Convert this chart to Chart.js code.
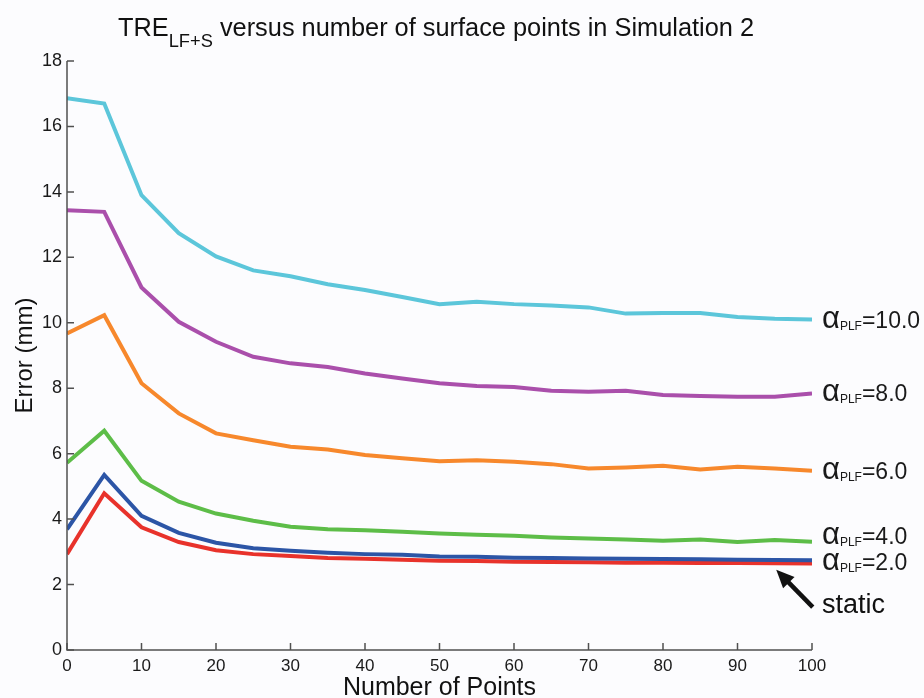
<!DOCTYPE html>
<html>
<head>
<meta charset="utf-8">
<script src="https://cdn.jsdelivr.net/npm/chart.js@4"></script>
<style>
  html, body { margin: 0; padding: 0; background: #fcfcfe; }
  #wrap { width: 924px; height: 698px; }
</style>
</head>
<body>
<div id="wrap"><canvas id="treChart" width="924" height="698"></canvas></div>
<script>
// number of surface points
var points = [0, 5, 10, 15, 20, 25, 30, 35, 40, 45, 50, 55, 60, 65, 70, 75, 80, 85, 90, 95, 100];

// TRE error (mm) per alpha_PLF
var alpha10 = [16.86, 16.70, 13.90, 12.74, 12.03, 11.60, 11.42, 11.18, 11.00, 10.79, 10.57, 10.64, 10.57, 10.53, 10.47, 10.28, 10.30, 10.30, 10.18, 10.12, 10.10];
var alpha8  = [13.44, 13.39, 11.08, 10.03, 9.42, 8.96, 8.76, 8.65, 8.45, 8.30, 8.15, 8.07, 8.04, 7.92, 7.89, 7.92, 7.79, 7.76, 7.74, 7.74, 7.84];
var alpha6  = [9.67, 10.23, 8.15, 7.23, 6.62, 6.41, 6.21, 6.13, 5.96, 5.86, 5.77, 5.80, 5.75, 5.68, 5.55, 5.58, 5.63, 5.52, 5.60, 5.55, 5.48];
var alpha4  = [5.72, 6.70, 5.17, 4.53, 4.17, 3.95, 3.77, 3.69, 3.66, 3.61, 3.56, 3.52, 3.49, 3.44, 3.41, 3.38, 3.34, 3.38, 3.30, 3.36, 3.31];
var alpha2  = [3.69, 5.35, 4.10, 3.58, 3.28, 3.11, 3.03, 2.97, 2.93, 2.91, 2.86, 2.85, 2.82, 2.81, 2.80, 2.79, 2.78, 2.77, 2.76, 2.75, 2.74];
var staticErr = [2.93, 4.79, 3.75, 3.30, 3.05, 2.93, 2.87, 2.81, 2.79, 2.76, 2.73, 2.72, 2.70, 2.69, 2.68, 2.67, 2.67, 2.66, 2.66, 2.65, 2.64];

var alphaLabels = ["=10.0", "=8.0", "=6.0", "=4.0", "=2.0"];

var FONT = "'Liberation Sans', Arial, sans-serif";
var AXIS = "#505050";

function toXY(vals) {
    return vals.map(function (v, i) { return { x: points[i], y: v }; });
}

function line(label, vals, color) {
    return {
        label: label,
        data: toXY(vals),
        borderColor: color,
        backgroundColor: color,
        borderWidth: 4,
        pointRadius: 0,
        tension: 0,
        fill: false
    };
}

// title, inward ticks, axis lines, right-hand labels and the "static" arrow
var decorations = {
    id: "decorations",
    afterDraw: function (chart) {
        var ctx = chart.ctx;
        var xs = chart.scales.x, ys = chart.scales.y;
        var area = chart.chartArea;

        ctx.save();
        // axes
        ctx.strokeStyle = AXIS;
        ctx.lineWidth = 1.5;
        ctx.beginPath();
        ctx.moveTo(area.left, area.top);
        ctx.lineTo(area.left, area.bottom);
        ctx.lineTo(area.right, area.bottom);
        ctx.stroke();
        ctx.beginPath();
        xs.ticks.forEach(function (t) {
            var px = xs.getPixelForValue(t.value);
            ctx.moveTo(px, area.bottom);
            ctx.lineTo(px, area.bottom - 7);
        });
        ys.ticks.forEach(function (t) {
            var py = ys.getPixelForValue(t.value);
            ctx.moveTo(area.left, py);
            ctx.lineTo(area.left + 7, py);
        });
        ctx.stroke();

        // title with subscript
        var main = "TRE", sub = "LF+S", rest = " versus number of surface points in Simulation 2";
        ctx.fillStyle = "#111";
        ctx.textBaseline = "alphabetic";
        ctx.textAlign = "left";
        ctx.font = "25px " + FONT;
        var w1 = ctx.measureText(main).width;
        var w3 = ctx.measureText(rest).width;
        ctx.font = "18px " + FONT;
        var w2 = ctx.measureText(sub).width;
        var target = 636, left = 118;
        var k = target / (w1 + w2 + w3);
        ctx.save();
        ctx.translate(left, 0);
        ctx.scale(k, 1);
        ctx.font = "25px " + FONT;
        ctx.fillText(main, 0, 36);
        ctx.font = "18px " + FONT;
        ctx.fillText(sub, w1, 47);
        ctx.font = "25px " + FONT;
        ctx.fillText(rest, w1 + w2, 36);
        ctx.restore();

        // alpha_PLF labels at line ends
        var ends = [alpha10, alpha8, alpha6, alpha4, alpha2];
        var shifts = [0, 0, 0, -6, 2];
        ctx.fillStyle = "#1a1a1a";
        ends.forEach(function (vals, i) {
            var y = ys.getPixelForValue(vals[vals.length - 1]) + shifts[i];
            var x = area.right + 10;
            ctx.textBaseline = "alphabetic";
            ctx.font = "31px " + FONT;
            ctx.fillText("\u03b1", x, y + 8);
            var wa = ctx.measureText("\u03b1").width;
            ctx.font = "12px " + FONT;
            ctx.fillText("PLF", x + wa, y + 10);
            var wp = ctx.measureText("PLF").width;
            ctx.font = "23px " + FONT;
            ctx.fillText(alphaLabels[i], x + wa + wp, y + 8);
        });

        // static arrow
        var hx = xs.getPixelForValue(95.2), hy = ys.getPixelForValue(2.45);
        var tx = xs.getPixelForValue(100.1), ty = ys.getPixelForValue(1.31);
        var ang = Math.atan2(hy - ty, hx - tx);
        ctx.strokeStyle = "#111";
        ctx.fillStyle = "#111";
        ctx.lineWidth = 4.5;
        ctx.beginPath();
        ctx.moveTo(tx, ty);
        ctx.lineTo(hx - 12 * Math.cos(ang), hy - 12 * Math.sin(ang));
        ctx.stroke();
        ctx.beginPath();
        ctx.moveTo(hx, hy);
        ctx.lineTo(hx - 18 * Math.cos(ang) + 8 * Math.sin(ang), hy - 18 * Math.sin(ang) - 8 * Math.cos(ang));
        ctx.lineTo(hx - 18 * Math.cos(ang) - 8 * Math.sin(ang), hy - 18 * Math.sin(ang) + 8 * Math.cos(ang));
        ctx.closePath();
        ctx.fill();
        ctx.font = "27px " + FONT;
        ctx.textBaseline = "middle";
        ctx.fillText("static", area.right + 10, ys.getPixelForValue(1.35));
        ctx.restore();
    }
};

new Chart(document.getElementById("treChart"), {
    type: "line",
    data: {
        datasets: [
            line("\u03b1PLF=10.0", alpha10, "#5cc6da"),
            line("\u03b1PLF=8.0", alpha8, "#aa4fab"),
            line("\u03b1PLF=6.0", alpha6, "#f7882c"),
            line("\u03b1PLF=4.0", alpha4, "#5dbd48"),
            line("\u03b1PLF=2.0", alpha2, "#2c55a6"),
            line("static", staticErr, "#e8322b")
        ]
    },
    options: {
        responsive: false,
        animation: false,
        layout: { padding: { left: 0, right: 112, top: 61, bottom: 0 } },
        plugins: {
            legend: { display: false },
            tooltip: { enabled: false },
            title: { display: false }
        },
        scales: {
            x: {
                type: "linear",
                min: 0,
                max: 100,
                afterFit: function (s) { s.height = 48; },
                grid: { display: false, drawTicks: false },
                border: { display: false },
                ticks: { stepSize: 10, color: "#1a1a1a", padding: 6, font: { family: FONT, size: 17 } },
                title: {
                    display: true,
                    text: "Number of Points",
                    color: "#111",
                    padding: { top: 0, bottom: 0 },
                    font: { family: FONT, size: 25, lineHeight: 0.8 }
                }
            },
            y: {
                min: 0,
                max: 18,
                afterFit: function (s) { s.width = 67; },
                grid: { display: false, drawTicks: false },
                border: { display: false },
                ticks: { stepSize: 2, color: "#1a1a1a", padding: 5, font: { family: FONT, size: 18 } },
                title: {
                    display: true,
                    text: "Error (mm)",
                    color: "#111",
                    padding: { top: 13, bottom: 0 },
                    font: { family: FONT, size: 24, lineHeight: 1 }
                }
            }
        }
    },
    plugins: [decorations]
});
</script>
</body>
</html>
